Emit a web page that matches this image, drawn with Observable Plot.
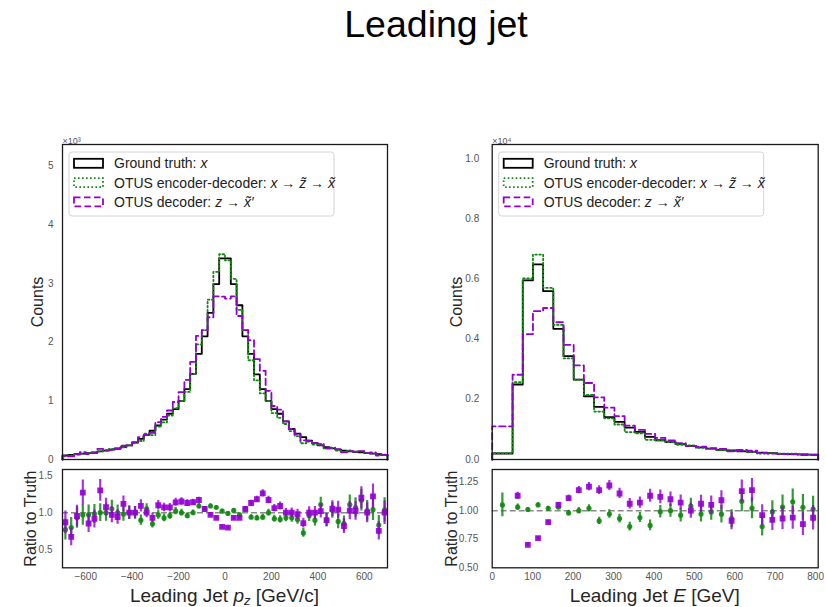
<!DOCTYPE html>
<html>
<head>
<meta charset="utf-8">
<script src="https://cdn.jsdelivr.net/npm/d3@7"></script>
<script src="https://cdn.jsdelivr.net/npm/@observablehq/plot@0.6"></script>
<style>
  body { margin: 0; background: #fff; }
  #fig { position: relative; width: 826px; height: 607px; background: #fff; overflow: hidden; }
  #fig > svg { position: absolute; overflow: visible; }
</style>
</head>
<body>
<div id="fig"></div>
<script>
// ---- Leading jet p_z : 56 bins of 25 GeV/c between -700 and 700 (raw counts) ----
const pzEdges = d3.range(-700, 701, 25);
const pzTruth = [70, 80, 90, 100, 110, 120, 140, 150, 170, 190, 210, 240, 290, 350, 420, 490, 580, 680, 780, 860,
  1000, 1200, 1460, 1800, 2100, 2500, 2990, 3430, 3430, 2990, 2630, 2100, 1800, 1450, 1200, 1000, 860, 780, 650, 520,
  440, 380, 320, 280, 240, 210, 190, 170, 150, 140, 130, 120, 110, 100, 90, 80];
const pzEncDec = [54, 64, 84, 97, 107, 118, 140, 150, 179, 190, 206, 240, 290, 315, 441, 417, 563, 632, 749, 877,
  1000, 1152, 1460, 1962, 2205, 2725, 3199, 3499, 3396, 3080, 2551, 2205, 1692, 1349, 1128, 1000, 791, 710, 605, 484,
  400, 277, 307, 252, 266, 189, 196, 150, 128, 155, 139, 140, 113, 104, 75, 83];
const pzDec = [61, 54, 86, 127, 94, 110, 182, 161, 165, 179, 235, 240, 290, 382, 420, 456, 638, 728, 835, 980,
  1150, 1356, 1664, 2106, 2205, 2425, 2781, 2778, 2744, 2781, 2446, 2205, 2034, 1711, 1512, 1170, 912, 850, 650, 520,
  431, 327, 320, 280, 245, 189, 200, 177, 123, 144, 133, 144, 110, 122, 68, 80];

// ---- Leading jet E : one wide low bin, then 30 bins of 25.2 GeV (raw counts) ----
const eEdges = [0].concat(d3.range(31).map(i => +(50.4 + 25.2 * i).toFixed(1)));
const eTruth = [200, 2490, 5950, 6480, 5590, 4340, 3430, 2650, 2100, 1750, 1410, 1250, 1060, 920, 750, 640,
  580, 510, 450, 400, 360, 320, 300, 270, 250, 230, 210, 190, 180, 170, 160];
const eEncDec = [210, 2565, 6010, 6804, 5702, 4470, 3361, 2650, 2142, 1593, 1368, 1163, 912, 865, 653, 634,
  580, 490, 468, 388, 356, 310, 279, 292, 255, 198, 208, 196, 194, 175, 162];
const eDec = [1100, 2814, 4165, 4925, 5031, 4557, 3807, 3127, 2541, 2065, 1720, 1438, 1124, 984, 848, 717,
  638, 546, 450, 424, 378, 349, 273, 316, 295, 221, 193, 177, 169, 150, 150];

// ---- axis ticks ----
const pzTicks = [-600, -400, -200, 0, 200, 400, 600];
const pzCountTicks = [0, 1, 2, 3, 4, 5];
const pzRatioTicks = [0.5, 1.0, 1.5];
const eTicks = [0, 100, 200, 300, 400, 500, 600, 700, 800];
const eCountTicks = [0, 0.2, 0.4, 0.6, 0.8, 1.0];
const eRatioTicks = [0.5, 0.75, 1.0, 1.25];

const FONT = '"Liberation Sans", Arial, Helvetica, sans-serif';
const C_TRUTH = "#000000", C_ENC = "#118811", C_DEC = "#9400d3";
const DASH_ENC = "1.6,2.4", DASH_DEC = "6.5,3.5";

// outline of a step histogram, dropping to zero at both ends
function steps(edges, counts, scale) {
  const pts = [{x: edges[0], y: 0}];
  counts.forEach((c, i) => pts.push({x: edges[i], y: c / scale}));
  pts.push({x: edges[edges.length - 1], y: counts[counts.length - 1] / scale});
  pts.push({x: edges[edges.length - 1], y: 0});
  return pts;
}

// ratio prediction / truth with Poisson uncertainty
function ratios(edges, truth, pred) {
  return pred.map((n, i) => {
    const t = truth[i], r = n / t, err = r * Math.sqrt(1 / n + 1 / t);
    return {x: (edges[i] + edges[i + 1]) / 2, r, lo: r - err, hi: r + err};
  });
}

const fig = d3.select("#fig");

// title
fig.append("svg").attr("width", 826).attr("height", 60).style("left", "0px").style("top", "0px")
  .append("text").attr("x", 436).attr("y", 37).attr("text-anchor", "middle")
  .attr("font-family", FONT).attr("font-size", 37.5).attr("fill", "#000").text("Leading jet");

function panel(o) {
  const style = {fontFamily: FONT, fontSize: "10px", background: "transparent", color: "#555", overflow: "visible"};

  // ---- main histogram ----
  const main = Plot.plot({
    width: o.width, height: 365,
    marginLeft: o.ml, marginRight: o.mr, marginTop: 44, marginBottom: 6,
    style,
    x: {domain: o.xDomain, axis: null},
    y: {domain: o.yDomain},
    marks: [
      Plot.axisY({ticks: o.yTicks, tickSize: 0, tickPadding: o.pad, tickFormat: o.yFmt, label: null, fontSize: 10, fill: "#555"}),
      Plot.line(steps(o.edges, o.truth, o.scale), {x: "x", y: "y", curve: "step-after", stroke: C_TRUTH, strokeWidth: 1.8}),
      Plot.line(steps(o.edges, o.enc, o.scale), {x: "x", y: "y", curve: "step-after", stroke: C_ENC, strokeWidth: 1.8, strokeDasharray: DASH_ENC}),
      Plot.line(steps(o.edges, o.dec, o.scale), {x: "x", y: "y", curve: "step-after", stroke: C_DEC, strokeWidth: 1.8, strokeDasharray: DASH_DEC}),
      Plot.frame({stroke: "#1a1a1a", strokeWidth: 1.3}),
      Plot.text(["Counts"], {text: d => d, frameAnchor: "left", dx: o.countsDx, rotate: -90, textAnchor: "middle", fontSize: 16, fill: "#262626"}),
      Plot.text([o.offset], {text: d => d, frameAnchor: "top-left", dy: -7, textAnchor: "start", fontSize: 9, fill: "#555"})
    ]
  });
  d3.select(main).style("left", o.left + "px").style("top", "100px");
  fig.node().appendChild(main);

  // legend
  const g = d3.select(main).append("g").attr("font-family", FONT).attr("font-size", 14)
    .attr("fill", "#222").attr("text-anchor", "start");
  const lx = o.ml + 7;
  g.append("rect").attr("x", lx).attr("y", 52).attr("width", 265).attr("height", 64).attr("rx", 3)
    .attr("fill", "white").attr("fill-opacity", 0.85).attr("stroke", "#d4d4d4").attr("stroke-width", 1);
  const rows = [
    {stroke: C_TRUTH, dash: null, parts: [["Ground truth: "], ["x", true]]},
    {stroke: C_ENC, dash: DASH_ENC, parts: [["OTUS encoder-decoder: "], ["x", true], [" \u2192 "], ["z\u0303", true], [" \u2192 "], ["x\u0303", true]]},
    {stroke: C_DEC, dash: DASH_DEC, parts: [["OTUS decoder: "], ["z", true], [" \u2192 "], ["x\u0303\u2032", true]]}
  ];
  rows.forEach((row, i) => {
    const cy = 63.3 + i * 19.3;
    g.append("rect").attr("x", lx + 5).attr("y", cy - 4.5).attr("width", 29).attr("height", 9)
      .attr("fill", "none").attr("stroke", row.stroke).attr("stroke-width", 1.8)
      .attr("stroke-dasharray", row.dash);
    const t = g.append("text").attr("x", lx + 45).attr("y", cy + 5).attr("text-anchor", "start");
    row.parts.forEach(([s, it]) => t.append("tspan").attr("font-style", it ? "italic" : null).text(s));
  });

  // ---- ratio panel ----
  const rEnc = ratios(o.edges, o.truth, o.enc);
  const rDec = ratios(o.edges, o.truth, o.dec);
  const ratio = Plot.plot({
    width: o.width, height: 147,
    marginLeft: o.ml, marginRight: o.mr, marginTop: 9, marginBottom: 39.7,
    style,
    x: {domain: o.xDomain},
    y: {domain: o.rDomain},
    marks: [
      Plot.axisY({ticks: o.rTicks, tickSize: 0, tickPadding: o.rpad, tickFormat: o.rFmt, label: null, fontSize: 10, fill: "#555"}),
      Plot.axisX({ticks: o.xTicks, tickSize: 0, tickPadding: 5, tickFormat: d3.format("d"), label: null, fontSize: 10, fill: "#555"}),
      Plot.ruleY([1], {stroke: "#8a8a8a", strokeWidth: 1.5, strokeDasharray: "6,3"}),
      Plot.ruleX(rEnc, {x: "x", y1: "lo", y2: "hi", stroke: C_ENC, strokeWidth: 2.2, strokeOpacity: 0.85, clip: true}),
      Plot.dot(rEnc, {x: "x", y: "r", r: 2.6, fill: C_ENC, fillOpacity: 0.9, stroke: "none", clip: true}),
      Plot.ruleX(rDec, {x: "x", y1: "lo", y2: "hi", stroke: C_DEC, strokeWidth: 2.2, strokeOpacity: 0.8, clip: true}),
      Plot.dot(rDec, {x: "x", y: "r", r: 3.3, symbol: "square", fill: C_DEC, fillOpacity: 0.9, stroke: "none", clip: true}),
      Plot.frame({stroke: "#1a1a1a", strokeWidth: 1.3}),
      Plot.text(["Ratio to Truth"], {text: d => d, frameAnchor: "left", dx: o.ratioDx, rotate: -90, textAnchor: "middle", fontSize: 16, fill: "#262626"})
    ]
  });
  d3.select(ratio).style("left", o.left + "px").style("top", "460px");
  fig.node().appendChild(ratio);

  // x-axis title with math styling
  const cx = o.ml + (o.width - o.ml - o.mr) / 2;
  const xl = d3.select(ratio).append("text").attr("x", cx).attr("y", 142).attr("text-anchor", "middle")
    .attr("font-family", FONT).attr("font-size", 19).attr("fill", "#262626");
  o.xlabel.forEach(([s, kind]) => {
    const ts = xl.append("tspan").text(s);
    if (kind === "it") ts.attr("font-style", "italic");
    if (kind === "sub") ts.attr("font-style", "italic").attr("font-size", 13).attr("dy", 3);
    if (kind === "after-sub") ts.attr("dy", -3);
  });
}

panel({
  left: 0, width: 400, ml: 62, mr: 13, pad: 9, rpad: 10,
  edges: pzEdges, truth: pzTruth, enc: pzEncDec, dec: pzDec, scale: 1e3,
  xDomain: [-700, 700], xTicks: pzTicks,
  yDomain: [0, 5.37], yTicks: pzCountTicks, yFmt: d3.format("d"),
  rDomain: [0.26, 1.58], rTicks: pzRatioTicks, rFmt: d3.format(".1f"),
  offset: "\u00d710\u00b3", countsDx: -25, ratioDx: -32,
  xlabel: [["Leading Jet "], ["p", "it"], ["z", "sub"], [" [GeV/c]", "after-sub"]]
});

panel({
  left: 420, width: 406, ml: 71.7, mr: 8.3, pad: 13, rpad: 14,
  edges: eEdges, truth: eTruth, enc: eEncDec, dec: eDec, scale: 1e4,
  xDomain: [0, 806.4], xTicks: eTicks,
  yDomain: [0, 1.046], yTicks: eCountTicks, yFmt: d3.format(".1f"),
  rDomain: [0.5, 1.36], rTicks: eRatioTicks, rFmt: d3.format(".2f"),
  offset: "\u00d710\u2074", countsDx: -35, ratioDx: -40,
  xlabel: [["Leading Jet "], ["E", "it"], [" [GeV]"]]
});
</script>
</body>
</html>
